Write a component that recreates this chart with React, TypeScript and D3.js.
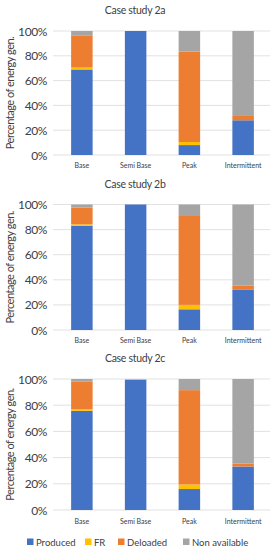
import React from "react";
import * as d3 from "d3";

const categories = ["Base", "Semi Base", "Peak", "Intermittent"];
const seriesNames = ["Produced", "FR", "Deloaded", "Non available"];
const colors = ["#4472C4", "#FFC000", "#ED7D31", "#A5A5A5"];
const yTicks = [0, 20, 40, 60, 80, 100];

const producedA = [69, 100, 8, 28];
const frA = [1.5, 0, 2.5, 0];
const deloadedA = [26, 0, 73, 3.5];
const nonAvailA = [3.5, 0, 16.5, 68.5];

const producedB = [83, 100, 16.5, 32];
const frB = [1.2, 0, 3.5, 0];
const deloadedB = [13.3, 0, 71.5, 3.5];
const nonAvailB = [2.5, 0, 8.5, 64.5];

const producedC = [75.7, 99.5, 16, 33.2];
const frC = [1.2, 0.5, 3.5, 0];
const deloadedC = [21.3, 0, 72, 2.3];
const nonAvailC = [1.8, 0, 8.5, 64.5];

const panels = [
  { title: "Case study 2a", series: [producedA, frA, deloadedA, nonAvailA], titleY: 10, top: 31, bottom: 155, labelY: 165 },
  { title: "Case study 2b", series: [producedB, frB, deloadedB, nonAvailB], titleY: 184, top: 204.5, bottom: 330, labelY: 340 },
  { title: "Case study 2c", series: [producedC, frC, deloadedC, nonAvailC], titleY: 358, top: 379, bottom: 510, labelY: 521 },
];

const FONT = "Lato, 'Open Sans', sans-serif";
const TXT = "#404040";

function Panel({ p }: { p: typeof panels[0] }) {
  const x = d3.scaleBand<string>().domain(categories).range([55, 270]).paddingInner(0.6).paddingOuter(0.3);
  const y = d3.scaleLinear().domain([0, 100]).range([p.bottom, p.top]);
  const rows = categories.map((c, i) => {
    const r: any = { cat: c };
    seriesNames.forEach((s, k) => (r[s] = p.series[k][i]));
    return r;
  });
  const stacked = d3.stack<any>().keys(seriesNames)(rows);
  return (
    <g>
      <text x={135} y={p.titleY} textAnchor="middle" dominantBaseline="central" fontSize={10.5} fill={TXT} fontFamily={FONT} letterSpacing={-0.3}>
        {p.title}
      </text>
      {yTicks.map((t) => (
        <g key={t}>
          <line x1={53} x2={270} y1={y(t)} y2={y(t)} stroke="#D9D9D9" strokeWidth={0.8} />
          <text x={47} y={y(t)} textAnchor="end" dominantBaseline="central" fontSize={12} fill={TXT} fontFamily={FONT} letterSpacing={-0.4}>
            {t}%
          </text>
        </g>
      ))}
      <text
        transform={`translate(9,${(p.top + p.bottom) / 2}) rotate(-90)`}
        textAnchor="middle"
        dominantBaseline="central"
        fontSize={11}
        fill={TXT}
        fontFamily={FONT}
        letterSpacing={-0.5}
      >
        Percentage of energy gen.
      </text>
      {stacked.map((layer, k) =>
        layer.map((d, i) =>
          d[1] - d[0] > 0 ? (
            <rect
              key={`${k}-${i}`}
              x={x(categories[i])!}
              width={x.bandwidth()}
              y={y(d[1])}
              height={y(d[0]) - y(d[1])}
              fill={colors[k]}
            />
          ) : null
        )
      )}
      {categories.map((c) => (
        <text key={c} x={x(c)! + x.bandwidth() / 2} y={p.labelY} textAnchor="middle" dominantBaseline="central" fontSize={7} fill={TXT} fontFamily={FONT}>
          {c}
        </text>
      ))}
    </g>
  );
}

const legendX = [27, 85, 118, 183];

export default function App() {
  return (
    <svg width={277} height={550} style={{ position: "absolute", left: 0, top: 0, background: "#fff" }}>
      <rect width={277} height={550} fill="#fff" />
      {panels.map((p) => (
        <Panel key={p.title} p={p} />
      ))}
      {seriesNames.map((s, k) => (
        <g key={s}>
          <rect x={legendX[k]} y={538.5} width={6.5} height={6.5} fill={colors[k]} />
          <text x={legendX[k] + 9} y={542} dominantBaseline="central" fontSize={9.5} fill={TXT} fontFamily={FONT}>
            {s}
          </text>
        </g>
      ))}
    </svg>
  );
}
